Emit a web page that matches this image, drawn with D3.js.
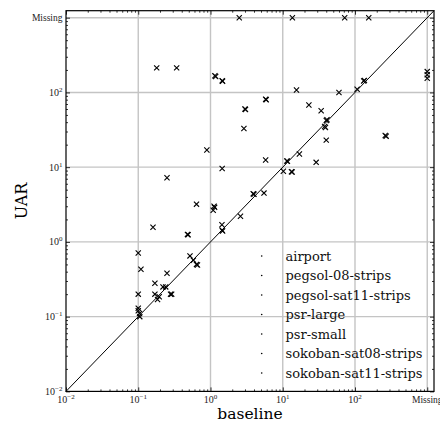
<!DOCTYPE html>
<html>
<head>
<meta charset="utf-8">
<script src="https://cdn.jsdelivr.net/npm/d3@7"></script>
<style>
  body { margin: 0; background: #fff; }
  svg { display: block; }
</style>
</head>
<body>
<svg id="chart" width="440" height="429"></svg>
<script>
// Per-domain results: [baseline, UAR]; null means the run produced no result ("Missing").
const seriesNames = ["airport", "pegsol-08-strips", "pegsol-sat11-strips", "psr-large",
                     "psr-small", "sokoban-sat08-strips", "sokoban-sat11-strips"];

const airport = [[0.10, 0.71], [0.109, 0.43], [0.16, 1.57], [0.25, 7.2], [0.89, 17],
                 [0.18, 213], [0.34, 213], [2.5, null], [13.6, null]];
const pegsol08 = [[0.10, 0.20], [0.17, 0.28], [0.17, 0.20], [0.195, 0.185], [0.185, 0.17],
                  [0.22, 0.25], [0.24, 0.25], [0.25, 0.38], [0.28, 0.20], [0.29, 0.20]];
const pegsolSat11 = [[0.10, 0.13], [0.10, 0.12], [0.104, 0.11], [0.105, 0.10], [0.52, 0.65],
                     [0.58, 0.57], [0.64, 0.50], [0.66, 0.49], [0.48, 1.26], [0.49, 1.25]];
const psrLarge = [[0.64, 3.2], [1.12, 3.0], [1.14, 2.9], [1.09, 2.65], [1.44, 1.7],
                  [1.45, 1.43], [1.47, 1.40], [2.6, 2.2], [3.9, 4.4], [4.0, 4.35], [5.5, 4.5]];
const psrSmall = [[1.45, 9.6], [2.9, 33], [3.0, 60], [3.05, 59], [5.8, 81], [5.9, 80],
                  [5.8, 12.5], [10.2, 8.8], [13.2, 8.7], [13.5, 8.6], [11.4, 12.1],
                  [11.6, 12.0], [17, 15]];
const sokobanSat08 = [[1.15, 167], [1.18, 163], [1.45, 143], [1.47, 141], [15.5, 108],
                      [23, 68], [29, 11.6], [34, 57], [38, 35], [39, 34], [40, 42],
                      [41, 43], [40, 23], [262, 26.5], [270, 26]];
const sokobanSat11 = [[60, 100], [107, 110], [132, 142], [135, 145], [null, 190],
                      [null, 172], [null, 155], [72, null], [155, null]];

const seriesValues = [airport, pegsol08, pegsolSat11, psrLarge, psrSmall, sokobanSat08, sokobanSat11];

// Axis settings
const missingValue = 1000;          // where missing results are placed on both axes
const axisMin = 0.01, axisMax = 1240;
const majorTickValues = [0.01, 0.1, 1, 10, 100];
const tickExponents = ["\u22122", "\u22121", "0", "1", "2"];
const missingLabel = "Missing";
const xLabel = "baseline", yLabel = "UAR";

const svg = d3.select("#chart");
const plotLeft = 66, plotRight = 434, plotTop = 10.7, plotBottom = 391.4;

const x = d3.scaleLog().domain([axisMin, axisMax]).range([plotLeft, plotRight]);
const y = d3.scaleLog().domain([axisMin, axisMax]).range([plotBottom, plotTop]);

const val = v => (v == null ? missingValue : v);

// minor ticks 2..9 x 10^k inside the domain
const minorTickValues = [];
for (let e = -2; e <= 3; e++) for (let m = 2; m <= 9; m++) {
  const v = m * Math.pow(10, e);
  if (v > axisMin && v < axisMax && v !== missingValue) minorTickValues.push(v);
}
const gridValues = majorTickValues.slice(1).concat([missingValue]);

// grid
const grid = svg.append("g").attr("stroke", "#c4c4c4").attr("stroke-width", 1.4);
grid.selectAll("line.gx").data(gridValues).join("line").attr("class", "gx")
  .attr("x1", d => x(d)).attr("x2", d => x(d)).attr("y1", plotTop).attr("y2", plotBottom);
grid.selectAll("line.gy").data(gridValues).join("line").attr("class", "gy")
  .attr("y1", d => y(d)).attr("y2", d => y(d)).attr("x1", plotLeft).attr("x2", plotRight);

// diagonal y = x
svg.append("line")
  .attr("x1", x(axisMin)).attr("y1", y(axisMin))
  .attr("x2", x(axisMax)).attr("y2", y(axisMax))
  .attr("stroke", "#000").attr("stroke-width", 1);

// markers
const r = 2.6;
const points = svg.append("g").attr("stroke", "#000").attr("stroke-width", 1.1);
seriesValues.forEach((vals, i) => {
  points.append("g").attr("class", "series-" + i)
    .selectAll("path").data(vals).join("path")
    .attr("d", d => {
      const cx = x(val(d[0])), cy = y(val(d[1]));
      return `M${cx - r},${cy - r}L${cx + r},${cy + r}M${cx - r},${cy + r}L${cx + r},${cy - r}`;
    });
});

// ticks on all four sides, pointing inward
const allMajor = majorTickValues.concat([missingValue]);
function tickAxis(gen, scale, values, size, transform) {
  svg.append("g").attr("transform", transform)
    .call(gen(scale).tickValues(values).tickSizeInner(-size).tickSizeOuter(0).tickFormat(""))
    .call(g => g.select(".domain").remove())
    .call(g => g.selectAll("line").attr("stroke", "#000").attr("stroke-width", 0.8));
}
[[allMajor, 4], [minorTickValues, 2]].forEach(([vals, size]) => {
  tickAxis(d3.axisBottom, x, vals, size, `translate(0,${plotBottom})`);
  tickAxis(d3.axisTop, x, vals, size, `translate(0,${plotTop})`);
  tickAxis(d3.axisLeft, y, vals, size, `translate(${plotLeft},0)`);
  tickAxis(d3.axisRight, y, vals, size, `translate(${plotRight},0)`);
});

// frame
svg.append("rect").attr("x", plotLeft).attr("y", plotTop)
  .attr("width", plotRight - plotLeft).attr("height", plotBottom - plotTop)
  .attr("fill", "none").attr("stroke", "#000").attr("stroke-width", 1.2);

// tick labels
const tickFont = "'Liberation Serif', 'DejaVu Serif', serif";
const labels = svg.append("g").attr("font-family", tickFont).attr("fill", "#222");
majorTickValues.forEach((v, i) => {
  const t = labels.append("text").attr("x", x(v)).attr("y", 403)
    .attr("text-anchor", "middle").attr("font-size", 10);
  t.append("tspan").text("10");
  t.append("tspan").attr("dy", -4).attr("font-size", 7).text(tickExponents[i]);
});
labels.append("text").attr("x", x(missingValue)).attr("y", 402.5)
  .attr("text-anchor", "middle").attr("font-size", 9.5).text(missingLabel);

majorTickValues.forEach((v, i) => {
  const t = labels.append("text").attr("x", 62.5).attr("y", y(v) + 3.5)
    .attr("text-anchor", "end").attr("font-size", 10);
  t.append("tspan").text("10");
  t.append("tspan").attr("dy", -4).attr("font-size", 7).text(tickExponents[i]);
});
labels.append("text").attr("x", 62.5).attr("y", y(missingValue) + 3)
  .attr("text-anchor", "end").attr("font-size", 9.5).text(missingLabel);

// axis titles
const titleFont = "'DejaVu Serif', serif";
svg.append("text").attr("x", (plotLeft + plotRight) / 2).attr("y", 419)
  .attr("text-anchor", "middle").attr("font-family", titleFont).attr("font-size", 15.5)
  .text(xLabel);
svg.append("text").attr("transform", `translate(27,${(plotTop + plotBottom) / 2}) rotate(-90)`)
  .attr("text-anchor", "middle").attr("font-family", titleFont).attr("font-size", 16)
  .text(yLabel);

// legend (tiny point markers, no frame)
const legend = svg.append("g").attr("font-family", titleFont).attr("font-size", 13);
seriesNames.forEach((name, i) => {
  const ly = 256 + i * 19.5;
  legend.append("circle").attr("cx", 261.7).attr("cy", ly).attr("r", 0.8).attr("fill", "#000");
  legend.append("text").attr("x", 285.5).attr("y", ly + 4.5).attr("fill", "#111").text(name);
});
</script>
</body>
</html>
